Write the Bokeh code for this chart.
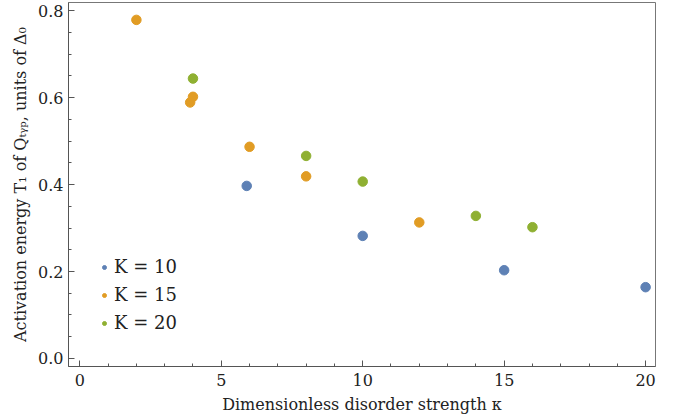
from bokeh.plotting import figure
from bokeh.models import Range1d, SingleIntervalTicker, Legend, LegendItem, PrintfTickFormatter
from bokeh.embed import file_html
from bokeh.resources import INLINE

# Data
k10_x = [5.9, 10, 15, 20]
k10_y = [0.397, 0.282, 0.203, 0.164]
k15_x = [2, 3.9, 4, 6, 8, 12]
k15_y = [0.779, 0.589, 0.602, 0.487, 0.419, 0.313]
k20_x = [4, 8, 10, 14, 16]
k20_y = [0.644, 0.466, 0.407, 0.328, 0.302]
series_labels = ["K = 10", "K = 15", "K = 20"]
colors = ["#5E81B5", "#E19C24", "#8FB032"]

FONT = "DejaVu Serif"

p = figure(width=675, height=416, output_backend="svg", toolbar_location=None,
           x_range=Range1d(-0.4, 20.35), y_range=Range1d(-0.0185, 0.819),
           min_border_left=68, min_border_right=20, min_border_top=2, min_border_bottom=10)

p.grid.visible = False
p.outline_line_color = "#777777"
p.outline_line_width = 1
p.background_fill_color = "white"
p.border_fill_color = "white"

renderers = []
for xs, ys, c in zip([k10_x, k15_x, k20_x], [k10_y, k15_y, k20_y], colors):
    r = p.scatter(xs, ys, size=9.5, fill_color=c, line_color=c)
    renderers.append(r)

p.xaxis.ticker = SingleIntervalTicker(interval=5, num_minor_ticks=5)
p.yaxis.ticker = SingleIntervalTicker(interval=0.2, num_minor_ticks=4)
p.yaxis.formatter = PrintfTickFormatter(format="%.1f")

for ax in (p.xaxis[0], p.yaxis[0]):
    ax.axis_line_color = "#555555"
    ax.major_tick_line_color = "#555555"
    ax.minor_tick_line_color = "#555555"
    ax.major_tick_in = 6
    ax.major_tick_out = 0
    ax.minor_tick_in = 3
    ax.minor_tick_out = 0
    ax.major_label_text_font = FONT
    ax.major_label_text_font_size = "16px"
    ax.major_label_text_color = "#222222"
    ax.axis_label_text_font = FONT
    ax.axis_label_text_font_size = "16px"
    ax.axis_label_text_font_style = "normal"
    ax.axis_label_text_color = "#222222"

p.xaxis.axis_label = "Dimensionless disorder strength κ"
p.yaxis.axis_label = "Activation energy T₁ of Qₜᵧₚ, units of Δ₀"
p.xaxis.major_label_standoff = 7
p.xaxis.axis_label_standoff = 6
p.yaxis.major_label_standoff = 5
p.yaxis.axis_label_standoff = 5

legend = Legend(items=[LegendItem(label=l, renderers=[r]) for l, r in zip(series_labels, renderers)],
                location=(31, 33), padding=0, margin=0, spacing=7,
                glyph_width=10, glyph_height=20, label_height=20, label_standoff=5,
                label_text_font=FONT, label_text_font_size="18px", label_text_color="#222222",
                border_line_alpha=0, background_fill_alpha=0)
p.add_layout(legend)

open("out.html", "w").write(file_html(p, INLINE))
